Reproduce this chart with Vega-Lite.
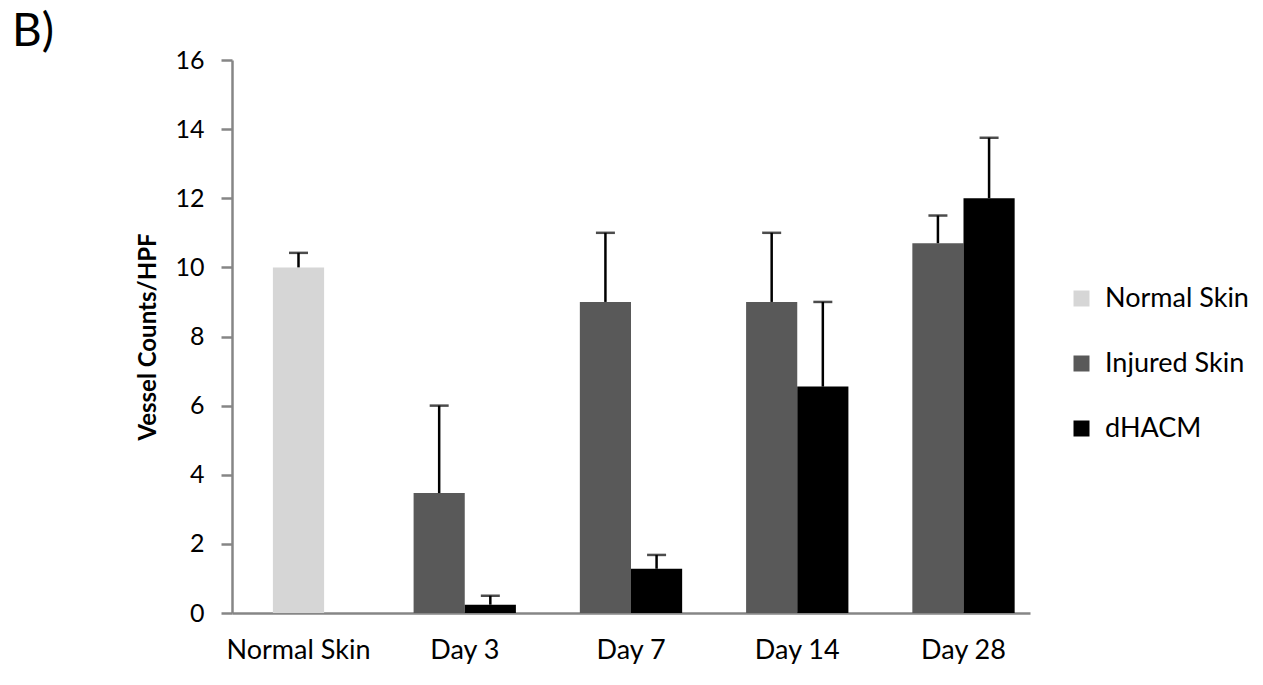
{
  "$schema": "https://vega.github.io/schema/vega-lite/v6.json",
  "width": 798,
  "height": 553,
  "autosize": {"type": "none"},
  "padding": {"left": 232, "top": 60, "right": 233, "bottom": 72},
  "background": "white",
  "title": {"text": "B)", "anchor": "start", "frame": "group", "dx": -220, "dy": 44, "fontSize": 46, "font": "Lato", "fontWeight": "normal", "baseline": "alphabetic", "offset": 0, "color": "black"},
  "config": {"view": {"stroke": null}},
  "data": {"values": [
    {"group": "Normal Skin", "series": "Normal Skin", "value": 10, "upper": 10.42},
    {"group": "Day 3", "series": "Injured Skin", "value": 3.47, "upper": 6.0},
    {"group": "Day 3", "series": "dHACM", "value": 0.24, "upper": 0.5},
    {"group": "Day 7", "series": "Injured Skin", "value": 9.0, "upper": 11.0},
    {"group": "Day 7", "series": "dHACM", "value": 1.28, "upper": 1.68},
    {"group": "Day 14", "series": "Injured Skin", "value": 9.0, "upper": 11.0},
    {"group": "Day 14", "series": "dHACM", "value": 6.55, "upper": 9.0},
    {"group": "Day 28", "series": "Injured Skin", "value": 10.7, "upper": 11.5},
    {"group": "Day 28", "series": "dHACM", "value": 12.0, "upper": 13.75}
  ]},
  "encoding": {
    "x": {
      "field": "group", "type": "nominal",
      "sort": ["Normal Skin", "Day 3", "Day 7", "Day 14", "Day 28"],
      "scale": {"paddingInner": 0.2, "paddingOuter": 0},
      "axis": {"title": null, "ticks": false, "labelAngle": 0, "domainColor": "#868686", "domainWidth": 2.5, "labelFont": "Lato", "labelFontSize": 27, "labelColor": "black", "labelPadding": 24}
    }
  },
  "layer": [
    {
      "transform": [{"filter": "datum.series === 'Normal Skin'"}],
      "layer": [
        {
          "mark": {"type": "bar", "width": {"band": 0.385}},
          "encoding": {
            "y": {"field": "value", "type": "quantitative", "scale": {"domain": [0, 16], "nice": false},
              "axis": {"values": [0, 2, 4, 6, 8, 10, 12, 14, 16], "grid": false, "domainColor": "#868686", "domainWidth": 2.5, "tickColor": "#868686", "tickWidth": 2.5, "tickSize": 11, "labelFont": "Lato", "labelFontSize": 25, "labelColor": "black", "labelPadding": 17, "title": "Vessel Counts/HPF", "titleFont": "Lato", "titleFontSize": 24, "titleFontWeight": "bold", "titleColor": "black", "titlePadding": 14}},
            "color": {"field": "series", "type": "nominal",
              "scale": {"domain": ["Normal Skin", "Injured Skin", "dHACM"], "range": ["#D6D6D6", "#595959", "#000000"]},
              "legend": {"title": null, "orient": "none", "legendX": 836, "legendY": 225, "symbolType": "square", "symbolSize": 256, "symbolStrokeWidth": 0, "labelFont": "Lato", "labelFontSize": 27, "labelColor": "black", "rowPadding": 37, "labelOffset": 10}}
          }
        },
        {
          "mark": {"type": "rule", "color": "black", "strokeWidth": 2.5},
          "encoding": {"y": {"field": "value", "type": "quantitative"}, "y2": {"field": "upper"}}
        },
        {
          "mark": {"type": "tick", "color": "black", "thickness": 2.5, "size": 19},
          "encoding": {"y": {"field": "upper", "type": "quantitative"}}
        }
      ]
    },
    {
      "transform": [{"filter": "datum.series !== 'Normal Skin'"}],
      "encoding": {
        "xOffset": {"field": "series", "type": "nominal", "scale": {"domain": ["Injured Skin", "dHACM"], "paddingOuter": 0.3, "paddingInner": 0}}
      },
      "layer": [
        {
          "mark": {"type": "bar"},
          "encoding": {
            "y": {"field": "value", "type": "quantitative"},
            "color": {"field": "series", "type": "nominal"}
          }
        },
        {
          "mark": {"type": "rule", "color": "black", "strokeWidth": 2.5},
          "encoding": {"y": {"field": "value", "type": "quantitative"}, "y2": {"field": "upper"}}
        },
        {
          "mark": {"type": "tick", "color": "black", "thickness": 2.5, "size": 19},
          "encoding": {"y": {"field": "upper", "type": "quantitative"}}
        }
      ]
    }
  ]
}
